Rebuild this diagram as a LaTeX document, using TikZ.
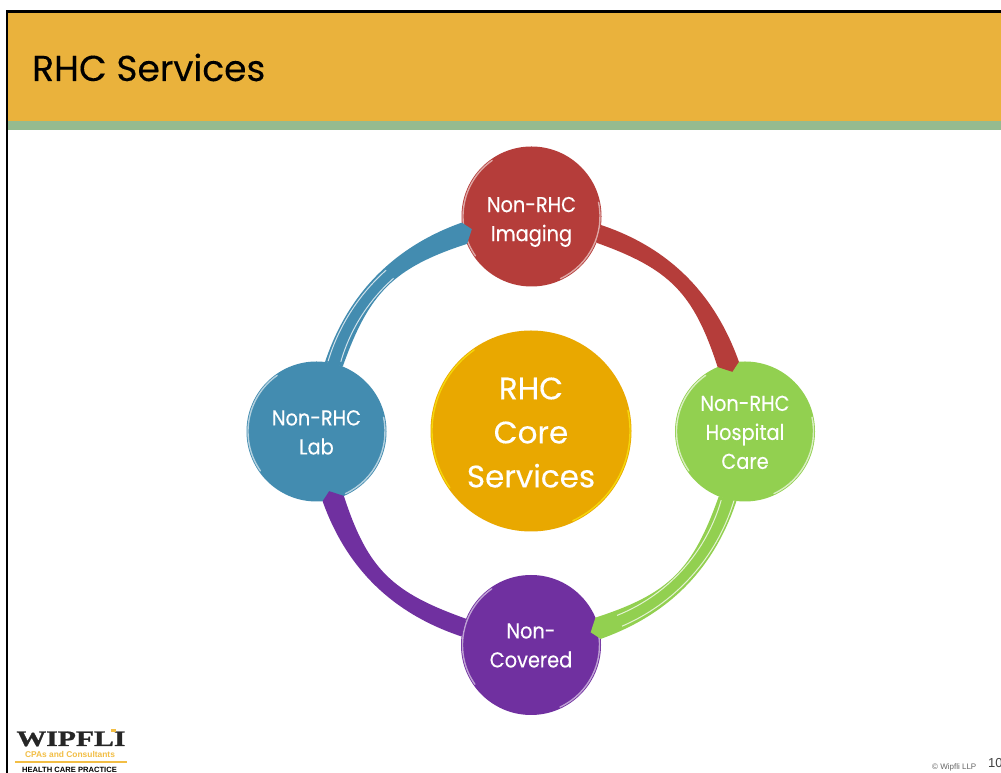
\documentclass[tikz,border=0pt]{standalone}
\usepackage{fontspec}
\setmainfont{Poppins}[FakeBold=0.25]
\newfontfamily\ballfont{Poppins}[FakeStretch=0.9,FakeBold=0.25]
\newfontfamily\logoserif{Liberation Serif}[FakeStretch=1.35,FakeBold=1.2]
\newfontfamily\logosans{Liberation Sans}
\usetikzlibrary{calc}
\definecolor{hdrgold}{HTML}{EAB23C}
\definecolor{hdrband}{HTML}{95BB8F}
\definecolor{cred}{HTML}{B53D3A}
\definecolor{cblue}{HTML}{438CB0}
\definecolor{cgreen}{HTML}{92D050}
\definecolor{cpurple}{HTML}{7030A0}
\definecolor{cgold}{HTML}{E9A800}
\definecolor{logogold}{HTML}{F2BE45}
\tikzset{
  ball/.style={circle,minimum size=140pt,inner sep=0pt,outer sep=0pt,text=white,align=center,
    font=\ballfont\fontsize{21.5}{29}\selectfont},
  coreball/.style={circle,minimum size=201pt,inner sep=0pt,outer sep=0pt,text=white,align=center,
    fill=cgold,font=\fontsize{31}{44}\selectfont},
  foot/.style={inner sep=0pt,anchor=base west,text=black!60},
}
% rim(node, radius, colour)
\newcommand\rim[3]{%
  \draw[#3,line width=1.4pt,line cap=round] ($(#1)+(125:#2-1.5)$) arc[start angle=125,end angle=215,radius=#2-1.5];
  \draw[#3,line width=1.4pt,line cap=round] ($(#1)+(-65:#2-1.5)$) arc[start angle=-65,end angle=12,radius=#2-1.5];
}
% ribbon(from, to, rotation, colour)
\newcommand\ribbon[4]{%
  \pgfmathsetmacro\aO{-7+#3}\pgfmathsetmacro\aI{-22+#3}%
  \pgfmathsetmacro\bO{95+#3}\pgfmathsetmacro\bI{113+#3}\pgfmathsetmacro\bT{102+#3}%
  \pgfmathsetmacro\cA{-18.4+#3}\pgfmathsetmacro\cB{109.6+#3}%
  \pgfmathsetmacro\cC{108+#3}\pgfmathsetmacro\cD{-19.6+#3}%
  \fill[#4] (#1.\aO) .. controls +(\cA:72) and +(\cB:72) .. (#2.\bO)
    -- ($(#2)+(\bT:61)$) -- (#2.\bI)
    .. controls +(\cC:78) and +(\cD:78) .. (#1.\aI) -- cycle;
}
% gloss lines along a ribbon: rotation, end angle, colour
\newcommand\gloss[3]{%
  \begin{scope}[shift={(core.center)},rotate=#1]
    \draw[#3,line width=1pt] plot[smooth,domain=71:#2,samples=30] (\x:{214.5+2*(1-((\x-45)/26.5)^2)});
    \draw[#3,line width=1pt] plot[smooth,domain=70:#2,samples=30] (\x:{202+3.5*(1-((\x-45)/26.5)^2)});
  \end{scope}
}
\begin{document}
\begin{tikzpicture}[x=1pt,y=1pt]
\useasboundingbox (0,0) rectangle (1001,773);
\clip (0,0) rectangle (1001,773);
\fill[white] (0,0) rectangle (1001,773);
% header
\fill[hdrgold] (7,652) rectangle (1001,761);
\fill[hdrband] (7,643) rectangle (1001,652);
\draw[black,line width=2.6pt] (7,0) -- (7,761.5) -- (1001,761.5);
\node[anchor=base west,inner sep=0pt,font=\fontsize{36}{40}\selectfont] (title) at (32,692) {RHC Services};
% circles
\node[coreball] (core) at (531,342) {\rule{0pt}{25pt}RHC\\Core\\Services};
\node[ball,fill=cred] (top) at (531.5,556.5) {\rule{0pt}{26pt}Non-RHC\\Imaging};
\node[ball,fill=cgreen] (right) at (745,341.5) {\rule{0pt}{17pt}Non-RHC\\Hospital\\Care};
\node[ball,fill=cpurple] (bottom) at (531,128) {\rule{0pt}{16pt}Non-\\Covered};
\node[ball,fill=cblue] (left) at (316.5,341.5) {\rule{0pt}{17pt}Non-RHC\\Lab};
\rim{core}{100.5}{yellow!60!cgold}
\rim{top}{70}{cred!45!white}
\rim{right}{70}{cgreen!35!white}
\rim{bottom}{70}{cpurple!45!white}
\rim{left}{70}{cblue!40!white}
% connectors
\ribbon{top}{right}{0}{cred}
\ribbon{right}{bottom}{-90}{cgreen}
\gloss{-90}{25}{cgreen!25!white}
\ribbon{bottom}{left}{-180}{cpurple}
\ribbon{left}{top}{90}{cblue}
\gloss{90}{42}{cblue!25!white}
% logo
\node[anchor=base,inner sep=0pt,font=\logoserif\bfseries\fontsize{22}{22}\selectfont,text=black!85] (logo) at (71,27) {WIPFLI};
\fill[logogold] (110.5,40.5) rectangle (116,44);
\node[anchor=base,inner sep=0pt,font=\logosans\bfseries\fontsize{8.4}{9}\selectfont,text=logogold] (logob) at (70,15) {CPAs and Consultants};
\fill[logogold] (15,9.8) rectangle (127,11.6);
\node[anchor=base,inner sep=0pt,font=\logosans\bfseries\fontsize{7.6}{8}\selectfont,text=black] (logoc) at (69.5,0.5) {HEALTH CARE PRACTICE};
% footer
\node[foot,font=\logosans\fontsize{8}{9}\selectfont] (copy) at (932,3) {© Wipfli LLP};
\node[foot,font=\logosans\fontsize{13}{14}\selectfont,text=black!75] (page) at (988,5) {10};
\end{tikzpicture}
\end{document}
